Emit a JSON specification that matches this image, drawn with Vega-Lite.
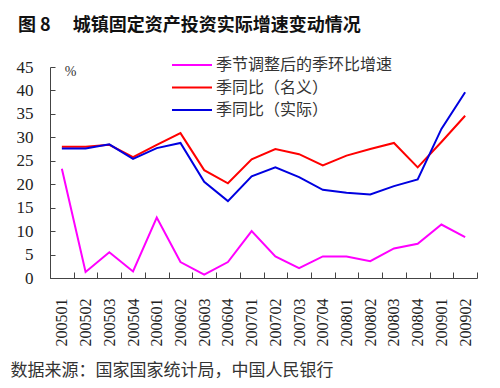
{
  "$schema": "https://vega.github.io/schema/vega-lite/v6.json",
  "width": 427,
  "height": 211,
  "autosize": {"type": "none"},
  "padding": {"left": 50, "top": 67, "right": 23, "bottom": 110},
  "background": "white",
  "title": {
    "text": "图 8　 城镇固定资产投资实际增速变动情况",
    "anchor": "start",
    "frame": "group",
    "dx": -32,
    "offset": 19,
    "font": "Noto Sans CJK SC",
    "fontSize": 18,
    "fontWeight": "bold",
    "color": "#111"
  },
  "data": {
    "values": [
      {"q": "200501", "s": "季节调整后的季环比增速", "v": 23.3},
      {"q": "200502", "s": "季节调整后的季环比增速", "v": 1.3},
      {"q": "200503", "s": "季节调整后的季环比增速", "v": 5.5},
      {"q": "200504", "s": "季节调整后的季环比增速", "v": 1.4},
      {"q": "200601", "s": "季节调整后的季环比增速", "v": 12.9},
      {"q": "200602", "s": "季节调整后的季环比增速", "v": 3.4},
      {"q": "200603", "s": "季节调整后的季环比增速", "v": 0.7},
      {"q": "200604", "s": "季节调整后的季环比增速", "v": 3.4},
      {"q": "200701", "s": "季节调整后的季环比增速", "v": 10.0},
      {"q": "200702", "s": "季节调整后的季环比增速", "v": 4.6},
      {"q": "200703", "s": "季节调整后的季环比增速", "v": 2.1},
      {"q": "200704", "s": "季节调整后的季环比增速", "v": 4.6},
      {"q": "200801", "s": "季节调整后的季环比增速", "v": 4.6},
      {"q": "200802", "s": "季节调整后的季环比增速", "v": 3.6},
      {"q": "200803", "s": "季节调整后的季环比增速", "v": 6.3},
      {"q": "200804", "s": "季节调整后的季环比增速", "v": 7.3},
      {"q": "200901", "s": "季节调整后的季环比增速", "v": 11.4},
      {"q": "200902", "s": "季节调整后的季环比增速", "v": 8.7},
      {"q": "200501", "s": "季同比（名义）", "v": 28.0},
      {"q": "200502", "s": "季同比（名义）", "v": 28.0},
      {"q": "200503", "s": "季同比（名义）", "v": 28.4},
      {"q": "200504", "s": "季同比（名义）", "v": 25.8},
      {"q": "200601", "s": "季同比（名义）", "v": 28.4},
      {"q": "200602", "s": "季同比（名义）", "v": 30.9},
      {"q": "200603", "s": "季同比（名义）", "v": 23.0},
      {"q": "200604", "s": "季同比（名义）", "v": 20.2},
      {"q": "200701", "s": "季同比（名义）", "v": 25.3},
      {"q": "200702", "s": "季同比（名义）", "v": 27.5},
      {"q": "200703", "s": "季同比（名义）", "v": 26.4},
      {"q": "200704", "s": "季同比（名义）", "v": 24.0},
      {"q": "200801", "s": "季同比（名义）", "v": 26.1},
      {"q": "200802", "s": "季同比（名义）", "v": 27.5},
      {"q": "200803", "s": "季同比（名义）", "v": 28.8},
      {"q": "200804", "s": "季同比（名义）", "v": 23.6},
      {"q": "200901", "s": "季同比（名义）", "v": 29.0},
      {"q": "200902", "s": "季同比（名义）", "v": 34.6},
      {"q": "200501", "s": "季同比（实际）", "v": 27.6},
      {"q": "200502", "s": "季同比（实际）", "v": 27.6},
      {"q": "200503", "s": "季同比（实际）", "v": 28.5},
      {"q": "200504", "s": "季同比（实际）", "v": 25.4},
      {"q": "200601", "s": "季同比（实际）", "v": 27.7},
      {"q": "200602", "s": "季同比（实际）", "v": 28.8},
      {"q": "200603", "s": "季同比（实际）", "v": 20.5},
      {"q": "200604", "s": "季同比（实际）", "v": 16.4},
      {"q": "200701", "s": "季同比（实际）", "v": 21.7},
      {"q": "200702", "s": "季同比（实际）", "v": 23.6},
      {"q": "200703", "s": "季同比（实际）", "v": 21.5},
      {"q": "200704", "s": "季同比（实际）", "v": 18.8},
      {"q": "200801", "s": "季同比（实际）", "v": 18.2},
      {"q": "200802", "s": "季同比（实际）", "v": 17.8},
      {"q": "200803", "s": "季同比（实际）", "v": 19.6},
      {"q": "200804", "s": "季同比（实际）", "v": 21.0},
      {"q": "200901", "s": "季同比（实际）", "v": 31.8},
      {"q": "200902", "s": "季同比（实际）", "v": 39.6}
    ]
  },
  "mark": {"type": "line", "strokeWidth": 2},
  "encoding": {
    "x": {
      "field": "q",
      "type": "ordinal",
      "bandPosition": 0.5,
      "scale": {"type": "band", "paddingInner": 0, "paddingOuter": 0},
      "axis": {
        "title": "数据来源：国家国家统计局，中国人民银行",
        "titleX": -40,
        "titleY": 92,
        "titleAlign": "left",
        "titleAnchor": "start",
        "titleBaseline": "middle",
        "titleFont": "Noto Sans CJK SC",
        "titleFontSize": 17,
        "titleFontWeight": "normal",
        "titleColor": "#333",
        "tickBand": "extent",
        "tickSize": -6,
        "tickColor": "#444",
        "domainColor": "#444",
        "labelAngle": 270,
        "labelAlign": "right",
        "labelBaseline": "middle",
        "labelPadding": 26,
        "labelFont": "Liberation Serif",
        "labelFontSize": 16,
        "labelColor": "#222",
        "grid": false
      }
    },
    "y": {
      "field": "v",
      "type": "quantitative",
      "scale": {"domain": [0, 45], "nice": false},
      "axis": {
        "values": [0, 5, 10, 15, 20, 25, 30, 35, 40, 45],
        "title": "%",
        "titleAngle": 0,
        "titleX": 20,
        "titleY": 4,
        "titleAlign": "center",
        "titleBaseline": "middle",
        "titleFont": "Liberation Serif",
        "titleFontSize": 14,
        "titleFontWeight": "normal",
        "titleColor": "#333",
        "tickSize": -5,
        "tickColor": "#444",
        "domainColor": "#444",
        "labelPadding": 22,
        "labelFont": "Liberation Serif",
        "labelFontSize": 17,
        "labelColor": "#222",
        "grid": false
      }
    },
    "color": {
      "field": "s",
      "type": "nominal",
      "scale": {
        "domain": ["季节调整后的季环比增速", "季同比（名义）", "季同比（实际）"],
        "range": ["#FF00FF", "#FF0000", "#0000E0"]
      },
      "legend": {
        "title": null,
        "orient": "none",
        "legendX": 121,
        "legendY": -13,
        "padding": 0,
        "symbolType": "stroke",
        "symbolSize": 1600,
        "symbolStrokeWidth": 2,
        "clipHeight": 22,
        "labelFont": "Noto Sans CJK SC",
        "labelFontSize": 16,
        "labelColor": "#333",
        "labelOffset": 3,
        "labelLimit": 0,
        "rowPadding": 0.5
      }
    }
  },
  "config": {"view": {"stroke": null}}
}
